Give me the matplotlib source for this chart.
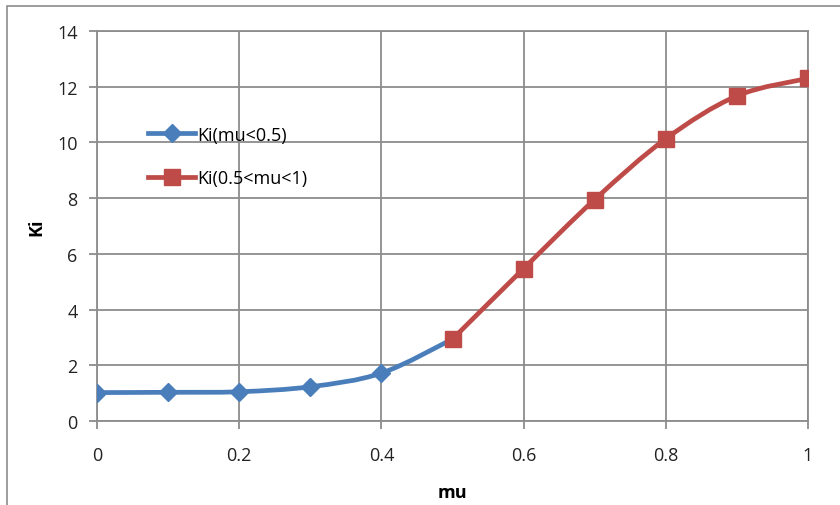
import numpy as np
import matplotlib
matplotlib.use("Agg")
import matplotlib.pyplot as plt
from matplotlib.path import Path
from matplotlib.patches import PathPatch, Rectangle

# data
mu_low = [0.0, 0.1, 0.2, 0.3, 0.4, 0.5]
ki_low = [1.02, 1.03, 1.05, 1.23, 1.72, 2.94]
mu_high = [0.5, 0.6, 0.7, 0.8, 0.9, 1.0]
ki_high = [2.94, 5.47, 7.95, 10.13, 11.67, 12.3]

blue = "#4a7ebb"
red = "#be4b48"
grid_col = "#8c8c8c"

plt.rcParams['font.family'] = ['Open Sans', 'DejaVu Sans']


def smooth_path(xs, ys):
    # Excel style smoothed line: cubic bezier through the points
    pts = np.column_stack([xs, ys])
    n = len(pts)
    verts = [pts[0]]
    codes = [Path.MOVETO]
    for i in range(n - 1):
        p0 = pts[i - 1] if i > 0 else pts[i]
        p1 = pts[i]
        p2 = pts[i + 1]
        p3 = pts[i + 2] if i + 2 < n else pts[i + 1]
        c1 = p1 + (p2 - p0) / 6.0
        c2 = p2 - (p3 - p1) / 6.0
        verts += [c1, c2, p2]
        codes += [Path.CURVE4] * 3
    return Path(verts, codes)


fig = plt.figure(figsize=(8.4, 5.06), dpi=100)
ax = fig.add_axes([97 / 840, 1 - 422 / 506, 711 / 840, 390 / 506])

for xs, ys, col, mk, ms, lab in [
    (mu_low, ki_low, blue, "D", 9, "Ki(mu<0.5)"),
    (mu_high, ki_high, red, "s", 11, "Ki(0.5<mu<1)"),
]:
    ax.add_patch(PathPatch(smooth_path(xs, ys), facecolor="none",
                           edgecolor=col, lw=3.4, capstyle="round",
                           zorder=3))
    mx = xs[:-1] if mk == "D" else xs
    my = ys[:-1] if mk == "D" else ys
    ax.plot(mx, my, ls="none", marker=mk, ms=ms, color=col, zorder=4)
    ax.plot([], [], color=col, lw=3.4, marker=mk, ms=ms, label=lab)

ax.set_xlim(0, 1)
ax.set_ylim(0, 14)
ax.set_xticks(np.arange(0, 1.01, 0.2))
ax.set_xticklabels(["0", "0.2", "0.4", "0.6", "0.8", "1"])
ax.set_yticks(np.arange(0, 15, 2))
ax.grid(True, color=grid_col, lw=1.3)
ax.set_axisbelow(True)
for s in ax.spines.values():
    s.set_color(grid_col)
    s.set_linewidth(1.3)
ax.tick_params(colors=grid_col, labelcolor="#222222", labelsize=13,
               length=6, width=1.3)
ax.tick_params(axis="x", pad=12)
ax.tick_params(axis="y", pad=8)

ax.set_xlabel("mu", fontweight="bold", fontsize=13, labelpad=14)
ax.set_ylabel("Ki", fontweight="bold", fontsize=13, labelpad=8)

leg = ax.legend(loc="upper left", bbox_to_anchor=(0.062, 0.776),
                frameon=False, fontsize=13, handlelength=2.6,
                handletextpad=0.1, labelspacing=1.4, borderaxespad=0)

# outer chart border
fig.add_artist(Rectangle((7 / 840, -0.1), 1.2, 1 - 7 / 506 + 0.1,
                         transform=fig.transFigure, fill=False,
                         edgecolor=grid_col, lw=1.2))

fig.savefig("out.png", dpi=100)
